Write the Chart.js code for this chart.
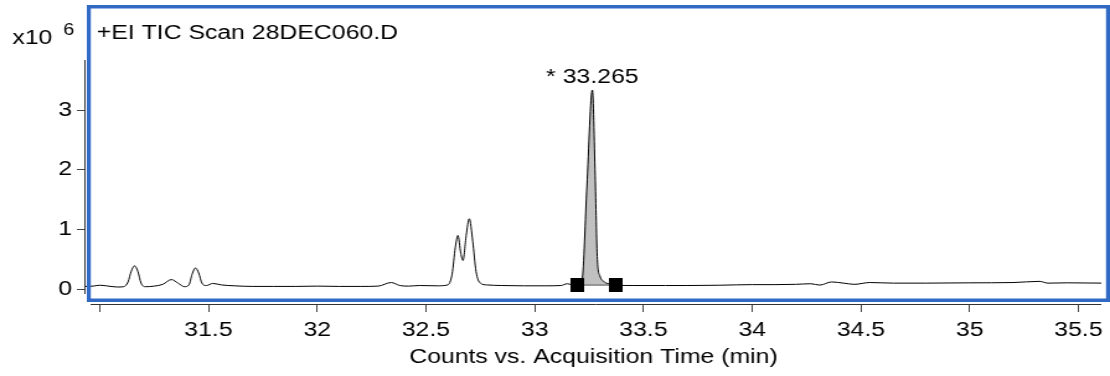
<!DOCTYPE html>
<html>
<head>
<meta charset="utf-8">
<script src="https://cdn.jsdelivr.net/npm/chart.js@4"></script>
<style>
  html, body { margin: 0; background: #fff; overflow: hidden; }
  /* the reference is a horizontally stretched screenshot, so stretch ours the same way */
  #wrap { width: 895px; height: 376px; transform: scaleX(1.2402); transform-origin: 0 0; }
</style>
</head>
<body>
<div id="wrap"><canvas id="tic" width="895" height="376"></canvas></div>
<script>
// retention time (min)
const times = [
  30.93, 30.97, 31.00, 31.03, 31.08, 31.11, 31.13, 31.145, 31.16, 31.175,
  31.19, 31.21, 31.25, 31.29, 31.33, 31.36, 31.39, 31.41, 31.425, 31.44,
  31.455, 31.47, 31.49, 31.52, 31.56, 31.62, 31.70, 31.80, 31.90, 32.00,
  32.10, 32.20, 32.28, 32.34, 32.38, 32.42, 32.47, 32.55, 32.60, 32.62,
  32.635, 32.647, 32.66, 32.67, 32.685, 32.699, 32.715, 32.73, 32.75, 32.78,
  32.85, 32.95, 33.05, 33.12, 33.15, 33.17, 33.196, 33.21, 33.218, 33.24,
  33.265, 33.278, 33.288, 33.30, 33.32, 33.34, 33.37, 33.45, 33.60, 33.70,
  33.85, 34.00, 34.10, 34.20, 34.27, 34.31, 34.365, 34.42, 34.47, 34.54,
  34.65, 34.80, 35.00, 35.20, 35.32, 35.36, 35.45, 35.62
];
// total ion counts (x10^6)
const counts = [
  0.045, 0.05, 0.065, 0.055, 0.035, 0.04, 0.12, 0.30, 0.39, 0.30,
  0.10, 0.04, 0.05, 0.08, 0.16, 0.10, 0.04, 0.07, 0.25, 0.355,
  0.27, 0.10, 0.06, 0.095, 0.07, 0.055, 0.045, 0.045, 0.045, 0.05,
  0.045, 0.045, 0.05, 0.11, 0.06, 0.05, 0.06, 0.055, 0.07, 0.25,
  0.70, 0.90, 0.60, 0.48, 0.90, 1.18, 0.80, 0.30, 0.10, 0.07,
  0.06, 0.055, 0.055, 0.06, 0.09, 0.075, 0.08, 0.10, 0.15, 1.73,
  3.34, 1.90, 0.50, 0.22, 0.12, 0.09, 0.07, 0.06, 0.06, 0.06,
  0.065, 0.075, 0.075, 0.08, 0.09, 0.067, 0.12, 0.10, 0.08, 0.11,
  0.10, 0.10, 0.105, 0.11, 0.13, 0.10, 0.105, 0.10
];
const xTicks = [31, 31.5, 32, 32.5, 33, 33.5, 34, 34.5, 35, 35.5];
const yTicks = [0, 1, 2, 3];

// integrated peak
const peakRT = 33.265;
const peakStart = 33.196;
const peakEnd = 33.37;
const baseLevel = 0.067;

const FONT = "'Liberation Sans', Arial, sans-serif";
Chart.defaults.font.family = FONT;
Chart.defaults.color = '#000';

const line = times.map((t, i) => ({ x: t, y: counts[i] }));
const peakArea = line.filter(p => p.x >= peakStart && p.x <= peakEnd);

// black square used for the integration markers
const marker = document.createElement('canvas');
marker.width = 11;
marker.height = 14;
marker.getContext('2d').fillRect(0, 0, 11, 14);

const frame = {
  id: 'frame',
  afterDraw(chart) {
    const { ctx, chartArea } = chart;
    const xs = chart.scales.x, ys = chart.scales.y;
    ctx.save();

    // blue plot border
    ctx.fillStyle = '#316ac5';
    const L = 70, R = 895, T = 5, B = 302;
    ctx.fillRect(L, T, R - L, 3.5);
    ctx.fillRect(L, B - 3.5, R - L, 3.5);
    ctx.fillRect(L, T, 3.2, B - T);
    ctx.fillRect(R - 3.2, T, 3.2, B - T);

    // axis lines (they don't meet in the original)
    ctx.strokeStyle = '#333';
    ctx.lineWidth = 1;
    ctx.beginPath();
    ctx.moveTo(chartArea.left - 0.5, 60);
    ctx.lineTo(chartArea.left - 0.5, 294);
    ctx.moveTo(73, chartArea.bottom + 0.5);
    ctx.lineTo(chartArea.right, chartArea.bottom + 0.5);
    ctx.stroke();

    ctx.fillStyle = '#000';
    ctx.textBaseline = 'alphabetic';
    ctx.textAlign = 'left';
    ctx.font = '20px ' + FONT;
    ctx.fillText('x10', 10, 44);
    ctx.fillText('+EI TIC Scan 28DEC060.D', 78, 39);
    ctx.font = '16px ' + FONT;
    ctx.fillText('6', 51, 35);

    // peak label above the apex
    const apex = Math.max(...counts);
    ctx.font = '20px ' + FONT;
    ctx.textAlign = 'center';
    ctx.fillText('* ' + peakRT.toFixed(3), xs.getPixelForValue(peakRT), ys.getPixelForValue(apex) - 7);
    ctx.restore();
  }
};

new Chart(document.getElementById('tic'), {
  type: 'scatter',
  data: {
    datasets: [
      {
        data: line,
        showLine: true,
        borderColor: '#000',
        borderWidth: 1,
        pointRadius: 0,
        cubicInterpolationMode: 'monotone',
        order: 0
      },
      {
        data: peakArea,
        showLine: true,
        borderWidth: 0,
        borderColor: 'rgba(0,0,0,0)',
        backgroundColor: '#c0c0c0',
        fill: { value: baseLevel },
        pointRadius: 0,
        cubicInterpolationMode: 'monotone',
        order: 3
      },
      {
        data: [{ x: peakStart, y: baseLevel }, { x: peakEnd, y: baseLevel }],
        showLine: true,
        borderColor: '#555',
        borderWidth: 1,
        pointStyle: marker,
        pointRadius: 6,
        order: -1
      }
    ]
  },
  options: {
    responsive: false,
    animation: false,
    devicePixelRatio: 1,
    layout: { padding: { top: 5, right: 1, left: 0, bottom: 0 } },
    plugins: { legend: { display: false }, tooltip: { enabled: false } },
    scales: {
      x: {
        type: 'linear',
        min: 30.935,
        max: 35.605,
        afterFit: s => {
          s.height = 72;
          s.paddingLeft = 0;
          s.paddingRight = 0;
        },
        afterBuildTicks: s => { s.ticks = xTicks.map(v => ({ value: v })); },
        ticks: {
          font: { size: 20 },
          padding: 6,
          maxRotation: 0,
          callback: v => (v === 31 ? '' : String(v))
        },
        grid: { drawOnChartArea: false, drawTicks: true, tickLength: 8, color: '#444' },
        border: { display: false },
        title: {
          display: true,
          text: 'Counts vs. Acquisition Time (min)',
          font: { size: 20 },
          padding: { top: 0, bottom: 7 }
        }
      },
      y: {
        type: 'linear',
        min: -0.25,
        max: 4.733,
        afterFit: s => {
          s.width = 69;
          s.paddingTop = 0;
          s.paddingBottom = 0;
        },
        afterBuildTicks: s => { s.ticks = yTicks.map(v => ({ value: v })); },
        ticks: { font: { size: 20 }, padding: 4, callback: v => String(v) },
        grid: { drawOnChartArea: false, drawTicks: true, tickLength: 7, color: '#444' },
        border: { display: false }
      }
    }
  },
  plugins: [frame]
});
</script>
</body>
</html>
